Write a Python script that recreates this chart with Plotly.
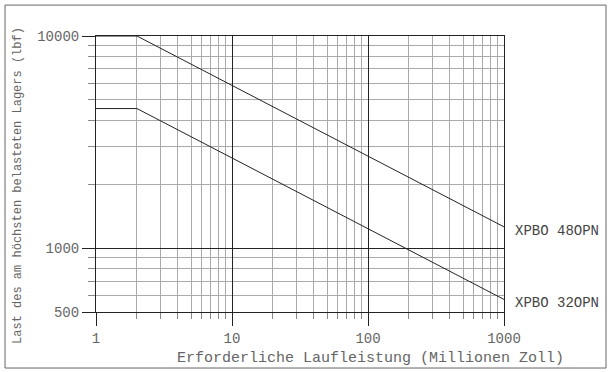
import math
import plotly.graph_objects as go

# Laufleistung (Millionen Zoll) und Last (lbf)
mileage = [1, 2, 1000]
load_48opn = [10000, 10000, 1260]
load_32opn = [4550, 4550, 573]

x_ticks = [1, 10, 100, 1000]
y_ticks = [500, 1000, 10000]
y_minor = [600, 700, 800, 900, 2000, 3000, 4000, 5000, 6000, 7000, 8000, 9000]

font_mono = "Liberation Mono"

fig = go.Figure()
fig.add_trace(go.Scatter(x=mileage, y=load_48opn, mode="lines",
                         line=dict(color="#222", width=1), name="XPBO 48OPN"))
fig.add_trace(go.Scatter(x=mileage, y=load_32opn, mode="lines",
                         line=dict(color="#222", width=1), name="XPBO 32OPN"))

fig.update_xaxes(type="log", range=[0, 3],
                 tickvals=x_ticks, ticktext=[str(v) for v in x_ticks],
                 ticks="outside", ticklen=13, tickcolor="#222",
                 showgrid=True, gridcolor="#222", gridwidth=1,
                 showline=True, linecolor="#222", mirror=True,
                 zeroline=False,
                 tickfont=dict(family=font_mono, size=14, color="#666"),
                 minor=dict(dtick="D1", ticks="outside", ticklen=6, tickcolor="#888",
                            showgrid=True, gridcolor="#aaa", gridwidth=1))
fig.update_yaxes(type="log", range=[2.69897, 4],
                 tickvals=y_ticks, ticktext=[str(v) for v in y_ticks],
                 ticks="outside", ticklen=13, tickcolor="#222",
                 showgrid=True, gridcolor="#222", gridwidth=1,
                 showline=True, linecolor="#222", mirror=True,
                 zeroline=False,
                 tickfont=dict(family=font_mono, size=14, color="#666"),
                 minor=dict(tickmode="array", tickvals=y_minor, ticks="outside",
                            ticklen=7, tickcolor="#888",
                            showgrid=True, gridcolor="#aaa", gridwidth=1))

# Beschriftungen der Kurven
for name, ys in [("XPBO 48OPN", load_48opn), ("XPBO 32OPN", load_32opn)]:
    fig.add_annotation(x=3, y=math.log10(ys[-1]), xref="x", yref="y",
                       text=name, showarrow=False, xanchor="left", yanchor="middle",
                       xshift=9, yshift=-4,
                       font=dict(family=font_mono, size=14, color="#444"))

fig.add_annotation(x=0.672, y=-0.167, xref="paper", yref="paper",
                   text="Erforderliche Laufleistung (Millionen Zoll)", showarrow=False,
                   xanchor="center", yanchor="middle",
                   font=dict(family=font_mono, size=15, color="#666"))
fig.add_annotation(x=-0.191, y=0.457, xref="paper", yref="paper",
                   text="Last des am höchsten belasteten Lagers (lbf)", showarrow=False,
                   textangle=-90, xanchor="center", yanchor="middle",
                   font=dict(family=font_mono, size=12, color="#666"))

# Rahmen um das ganze Bild
fig.add_shape(type="rect", xref="paper", yref="paper",
              x0=-0.223, x1=1.25, y0=-0.203, y1=1.112,
              line=dict(color="#666", width=1))

fig.update_layout(width=611, height=372,
                  margin=dict(l=96, r=107, t=36, b=60),
                  paper_bgcolor="white", plot_bgcolor="white",
                  showlegend=False)

fig.write_html("out.html", config={"displayModeBar": False},
               post_script="document.body.style.margin='0';")
